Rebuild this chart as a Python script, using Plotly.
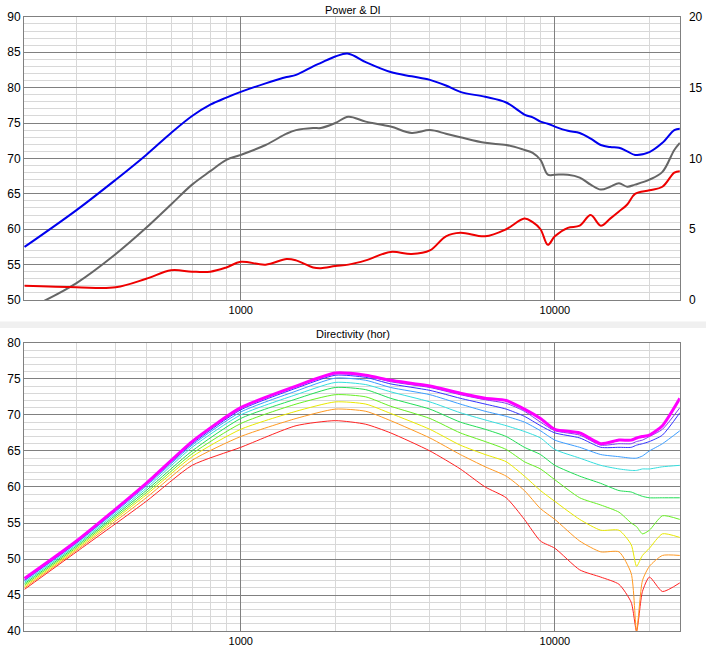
import plotly.graph_objects as go

# Power & DI (top panel)
top_freq = [205, 300, 400, 500, 600, 700, 800, 900, 1000, 1200, 1400, 1500, 1700, 1800, 2000, 2200, 2500,
            3000, 3500, 4000, 4500, 5000, 6000, 7000, 8000, 8500, 9000, 9500, 10000, 11000, 12000, 13000,
            14000, 15000, 16000, 17000, 18000, 20000, 22000, 24000, 25000]
on_axis = [57.5, 62.7, 67.0, 70.5, 73.6, 76.0, 77.6, 78.6, 79.4, 80.6, 81.5, 81.8, 83.0, 83.5, 84.4, 84.8, 83.6,
           82.2, 81.6, 81.1, 80.3, 79.4, 78.7, 77.9, 76.2, 75.8, 75.2, 74.9, 74.5, 73.9, 73.6, 72.8,
           71.9, 71.6, 71.5, 71.0, 70.5, 70.9, 72.2, 74.0, 74.2]
power = [48.5, 52.4, 56.5, 60.2, 63.5, 66.3, 68.2, 69.8, 70.5, 71.9, 73.5, 74.0, 74.3, 74.3, 75.0, 75.9, 75.2,
         74.5, 73.6, 74.0, 73.5, 73.0, 72.2, 71.9, 71.2, 70.8, 69.8, 67.7, 67.7, 67.7, 67.3, 66.3,
         65.6, 66.0, 66.5, 66.0, 66.3, 67.0, 68.1, 71.2, 72.2]
di_left = [52.0, 51.8, 51.8, 53.0, 54.2, 54.0, 54.0, 54.6, 55.4, 55.0, 55.8, 55.6, 54.6, 54.5, 54.8, 55.0, 55.6,
           56.8, 56.5, 57.0, 59.0, 59.5, 59.0, 60.0, 61.5, 61.0, 60.0, 57.8, 59.0, 60.2, 60.5, 62.0,
           60.5, 61.5, 62.5, 63.5, 65.0, 65.5, 66.0, 68.0, 68.2]
di = [(v - 50) / 2 for v in di_left]

# Directivity (hor), 0..90 deg
dir_freq = [205, 300, 500, 700, 1000, 1500, 2000, 2500, 3000, 4000, 5000, 6000, 7000, 8000, 9000, 10000,
            12000, 14000, 16000, 17500, 18200, 19000, 20000, 22000, 25000]
dir_curves = [
    [47.3, 52.5, 60.5, 66.3, 71.0, 74.0, 75.8, 75.5, 74.8, 74.0, 73.0, 72.3, 72.0, 70.8, 69.5, 68.0, 67.5, 66.0, 66.5, 66.5, 66.8, 67.0, 67.2, 68.5, 72.3],
    [47.2, 52.4, 60.4, 66.2, 70.9, 73.9, 75.7, 75.4, 74.6, 73.8, 72.8, 72.1, 71.6, 70.5, 69.0, 67.8, 67.2, 65.8, 66.0, 66.0, 66.3, 66.5, 67.0, 68.0, 71.0],
    [47.1, 52.3, 60.3, 66.0, 70.7, 73.7, 75.5, 75.2, 74.3, 73.4, 72.3, 71.5, 70.8, 69.8, 68.5, 67.5, 66.8, 65.5, 65.5, 65.5, 65.8, 66.0, 66.3, 67.2, 70.3],
    [47.0, 52.2, 60.1, 65.8, 70.4, 73.3, 75.1, 74.8, 73.8, 72.8, 71.5, 70.5, 69.8, 69.0, 67.8, 66.5, 65.5, 64.5, 64.2, 64.0, 64.0, 64.3, 65.0, 66.0, 67.8],
    [46.8, 52.0, 59.8, 65.5, 70.0, 72.8, 74.5, 74.2, 73.2, 71.8, 70.3, 69.3, 68.5, 67.7, 66.8, 65.2, 64.0, 63.0, 62.5, 62.3, 62.3, 62.5, 62.5, 62.8, 63.0],
    [46.6, 51.8, 59.5, 65.0, 69.5, 72.2, 73.8, 73.5, 72.3, 70.8, 69.0, 68.0, 67.0, 65.5, 64.5, 63.0, 61.5, 60.5, 59.5, 59.3, 59.0, 58.7, 58.5, 58.5, 58.5],
    [46.4, 51.6, 59.2, 64.6, 68.8, 71.5, 72.8, 72.5, 71.2, 69.5, 67.5, 66.3, 65.2, 63.5, 62.5, 61.0, 58.5, 57.5, 56.5, 55.0, 54.5, 53.5, 54.0, 56.0, 55.5],
    [46.2, 51.4, 58.9, 64.2, 68.0, 70.5, 71.8, 71.5, 70.2, 68.0, 65.8, 64.5, 63.5, 61.5, 59.5, 58.0, 55.5, 54.0, 54.0, 52.0, 49.0, 50.5, 51.5, 53.5, 53.0],
    [46.0, 51.2, 58.5, 63.7, 67.0, 69.5, 70.8, 70.5, 69.2, 66.8, 64.5, 62.8, 61.5, 59.5, 57.0, 55.5, 52.5, 51.0, 51.0, 48.0, 40.0, 47.0, 49.0, 50.5, 50.5],
    [45.8, 51.0, 58.0, 63.0, 65.5, 68.5, 69.2, 68.7, 67.5, 65.0, 62.5, 60.0, 58.5, 55.5, 52.5, 51.5, 48.5, 47.5, 46.5, 44.0, 40.0, 45.5, 47.5, 45.5, 46.7],
]
dir_colors = ["#ff00ff", "#7b3cf0", "#3333ff", "#3a9cff", "#33dddd", "#22dd55", "#66ee22", "#e8e800", "#ff9922", "#ff2222"]

x_minor = [200, 300, 400, 500, 600, 700, 800, 900, 2000, 3000, 4000, 5000, 6000, 7000, 8000, 9000, 20000]

fig = go.Figure()
fig.add_trace(go.Scatter(x=top_freq, y=power, line=dict(color="#666666", width=2, shape="spline"), xaxis="x", yaxis="y"))
fig.add_trace(go.Scatter(x=top_freq, y=on_axis, line=dict(color="#0000ee", width=2, shape="spline"), xaxis="x", yaxis="y"))
fig.add_trace(go.Scatter(x=top_freq, y=di, line=dict(color="#ee0000", width=2, shape="spline"), xaxis="x", yaxis="y2"))
for i in reversed(range(len(dir_curves))):
    fig.add_trace(go.Scatter(x=dir_freq, y=dir_curves[i],
                             line=dict(color=dir_colors[i], width=3 if i == 0 else 1, shape="spline", smoothing=0.6),
                             xaxis="x2", yaxis="y3"))

font = dict(family="Liberation Sans", size=11, color="#000000")
xcommon = dict(type="log", range=[2.31, 4.398], tickvals=[1000, 10000], ticktext=["1000", "10000"],
               gridcolor="#808080", showline=True, linecolor="#808080", mirror=True, zeroline=False,
               tickfont=font, domain=[0.034, 0.963], automargin=False,
               minor=dict(tickvals=x_minor, gridcolor="#d8d8d8", showgrid=True))
ycommon = dict(dtick=5, gridcolor="#808080", showline=True, linecolor="#808080", mirror=True, zeroline=False,
               tickfont=dict(family="Liberation Sans", size=12, color="#000000"), automargin=False,
               minor=dict(dtick=1, gridcolor="#d8d8d8", showgrid=True))

fig.update_layout(
    width=706, height=648, margin=dict(l=0, r=0, t=0, b=0), showlegend=False,
    paper_bgcolor="white", plot_bgcolor="white",
    xaxis=dict(xcommon, anchor="y"),
    yaxis=dict(ycommon, range=[50, 90], domain=[0.537, 0.974]),
    yaxis2=dict(range=[0, 20], dtick=5, overlaying="y", side="right", showgrid=False, zeroline=False,
                automargin=False, ticklabelstandoff=8,
                tickfont=dict(family="Liberation Sans", size=12, color="#000000"), anchor="x"),
    xaxis2=dict(xcommon, anchor="y3", showticklabels=True),
    yaxis3=dict(ycommon, range=[40, 80], domain=[0.026, 0.471], anchor="x2"),
    shapes=[dict(type="rect", xref="paper", yref="paper", x0=0, x1=1, y0=0.494, y1=0.504,
                 fillcolor="#f0f0f0", line=dict(width=0), layer="below")],
    annotations=[
        dict(text="Power & DI", x=0.5, y=0.997, xref="paper", yref="paper", showarrow=False, font=font, yanchor="top"),
        dict(text="Directivity (hor)", x=0.5, y=0.497, xref="paper", yref="paper", showarrow=False, font=font, yanchor="top"),
    ],
)

fig.write_html("out.html", config={"displayModeBar": False},
               post_script="document.body.style.margin='0';document.body.style.overflow='hidden';")
